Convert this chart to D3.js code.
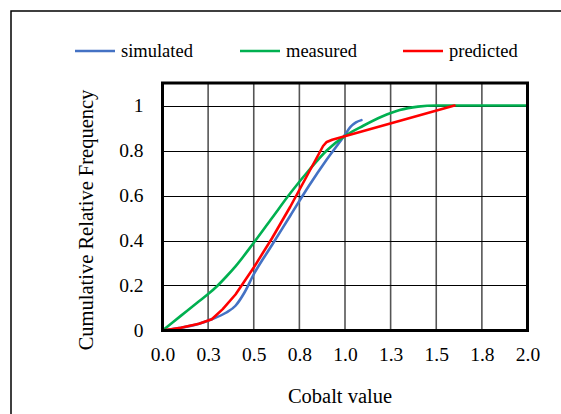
<!DOCTYPE html>
<html>
<head>
<meta charset="utf-8">
<script src="https://cdn.jsdelivr.net/npm/d3@7"></script>
<style>
  html, body { margin: 0; padding: 0; background: #fff; }
  svg { display: block; }
  text { font-family: "Liberation Serif", "Times New Roman", serif; fill: #000; }
</style>
</head>
<body>
<div id="chart"></div>
<script>
// Cumulative relative frequency of cobalt value

const seriesNames = ["simulated", "measured", "predicted"]
const seriesColors = ["#4472C4", "#00B050", "#FF0000"]

// simulated (blue)
const simulatedX = [0, 0.1, 0.2, 0.27, 0.35, 0.4, 0.45, 0.5, 0.6, 0.7, 0.8, 0.9, 1.0, 1.03, 1.06, 1.09]
const simulatedY = [0, 0.012, 0.03, 0.05, 0.08, 0.11, 0.17, 0.25, 0.38, 0.51, 0.64, 0.76, 0.87, 0.905, 0.925, 0.935]

// measured (green)
const measuredX = [0, 0.1, 0.2, 0.25, 0.3, 0.35, 0.4, 0.5, 0.6, 0.7, 0.8, 0.9, 1.0, 1.1, 1.2, 1.3, 1.4, 1.5, 1.6, 2.0]
const measuredY = [0, 0.065, 0.13, 0.162, 0.198, 0.24, 0.285, 0.39, 0.5, 0.61, 0.71, 0.8, 0.865, 0.91, 0.95, 0.98, 0.995, 1, 1, 1]

// predicted (red)
const predictedX = [0, 0.1, 0.2, 0.27, 0.33, 0.4, 0.5, 0.6, 0.7, 0.8, 0.88, 0.9, 0.93, 1.6]
const predictedY = [0, 0.012, 0.03, 0.05, 0.095, 0.16, 0.28, 0.41, 0.55, 0.7, 0.82, 0.838, 0.848, 1.0]

const xTicks = [0, 0.25, 0.5, 0.75, 1.0, 1.25, 1.5, 1.75, 2.0]
const xTickLabels = ["0.0", "0.3", "0.5", "0.8", "1.0", "1.3", "1.5", "1.8", "2.0"]
const yTicks = [0, 0.2, 0.4, 0.6, 0.8, 1]
const yTickLabels = ["0", "0.2", "0.4", "0.6", "0.8", "1"]

const CONFIG = {
  width: 561,
  height: 414,
  font: "'Liberation Serif', 'Times New Roman', serif",
  plot: { left: 162.5, right: 527.5, top: 83, bottom: 330.5 }
}

const svg = d3.select("#chart").append("svg")
  .attr("width", CONFIG.width)
  .attr("height", CONFIG.height)

// outer frame
svg.append("rect")
  .attr("x", 11).attr("y", 11)
  .attr("width", 560).attr("height", 420)
  .attr("fill", "none").attr("stroke", "#000").attr("stroke-width", 1.5)

const x = d3.scaleLinear().domain([0, 2]).range([CONFIG.plot.left, CONFIG.plot.right])
const y = d3.scaleLinear().domain([0, 1.1]).range([CONFIG.plot.bottom, CONFIG.plot.top])

// gridlines
svg.append("g")
  .selectAll("line")
  .data(xTicks.slice(1, -1))
  .join("line")
  .attr("x1", d => x(d)).attr("x2", d => x(d))
  .attr("y1", CONFIG.plot.top).attr("y2", CONFIG.plot.bottom)
  .attr("stroke", "#555").attr("stroke-width", 1.6)

svg.append("g")
  .selectAll("line")
  .data(yTicks.slice(1))
  .join("line")
  .attr("x1", CONFIG.plot.left).attr("x2", CONFIG.plot.right)
  .attr("y1", d => Math.round(y(d)) + 0.5).attr("y2", d => Math.round(y(d)) + 0.5)
  .attr("stroke", "#000").attr("stroke-width", 1.2)

// axes (labels only)
const xAxis = svg.append("g")
  .attr("transform", `translate(0,${CONFIG.plot.bottom})`)
  .call(d3.axisBottom(x).tickValues(xTicks).tickSize(0).tickPadding(17)
    .tickFormat((d, i) => xTickLabels[i]))
const yAxis = svg.append("g")
  .attr("transform", `translate(${CONFIG.plot.left},0)`)
  .call(d3.axisLeft(y).tickValues(yTicks).tickSize(0).tickPadding(19)
    .tickFormat((d, i) => yTickLabels[i]))
;[xAxis, yAxis].forEach(a => {
  a.attr("font-family", CONFIG.font).attr("font-size", 19.5)
  a.select(".domain").remove()
  a.selectAll("text")
    .style("font-family", CONFIG.font)
    .style("font-size", "19.5px")
    .attr("fill", "#000")
})

// series lines
const series = [
  { xs: simulatedX, ys: simulatedY, curve: d3.curveMonotoneX },
  { xs: measuredX, ys: measuredY, curve: d3.curveMonotoneX },
  { xs: predictedX, ys: predictedY, curve: d3.curveLinear }
]

svg.append("g")
  .selectAll("path")
  .data(series)
  .join("path")
  .attr("d", s => d3.line()
    .x(d => x(d[0]))
    .y(d => y(d[1]))
    .curve(s.curve)(s.xs.map((v, i) => [v, s.ys[i]])))
  .attr("fill", "none")
  .attr("stroke", (s, i) => seriesColors[i])
  .attr("stroke-width", 2.6)
  .attr("stroke-linejoin", "round")
  .attr("stroke-linecap", "round")

// plot border
svg.append("rect")
  .attr("x", CONFIG.plot.left).attr("y", CONFIG.plot.top)
  .attr("width", CONFIG.plot.right - CONFIG.plot.left)
  .attr("height", CONFIG.plot.bottom - CONFIG.plot.top)
  .attr("fill", "none").attr("stroke", "#000").attr("stroke-width", 3)

// axis titles
svg.append("text")
  .attr("x", 340).attr("y", 403)
  .attr("text-anchor", "middle")
  .style("font-size", "20.5px")
  .text("Cobalt value")

svg.append("text")
  .attr("transform", "translate(93,220) rotate(-90)")
  .attr("text-anchor", "middle")
  .style("font-size", "20.5px")
  .text("Cumulative Relative Frequency")

// legend
const legendX = [75, 240, 403]
const legend = svg.append("g")
  .selectAll("g")
  .data(seriesNames)
  .join("g")
  .attr("transform", (d, i) => `translate(${legendX[i]},51)`)
legend.append("line")
  .attr("x1", 0).attr("x2", 40)
  .attr("stroke", (d, i) => seriesColors[i])
  .attr("stroke-width", 2.6)
legend.append("text")
  .attr("x", 46).attr("y", 5.5)
  .style("font-size", "18.5px")
  .text(d => d)
</script>
</body>
</html>
